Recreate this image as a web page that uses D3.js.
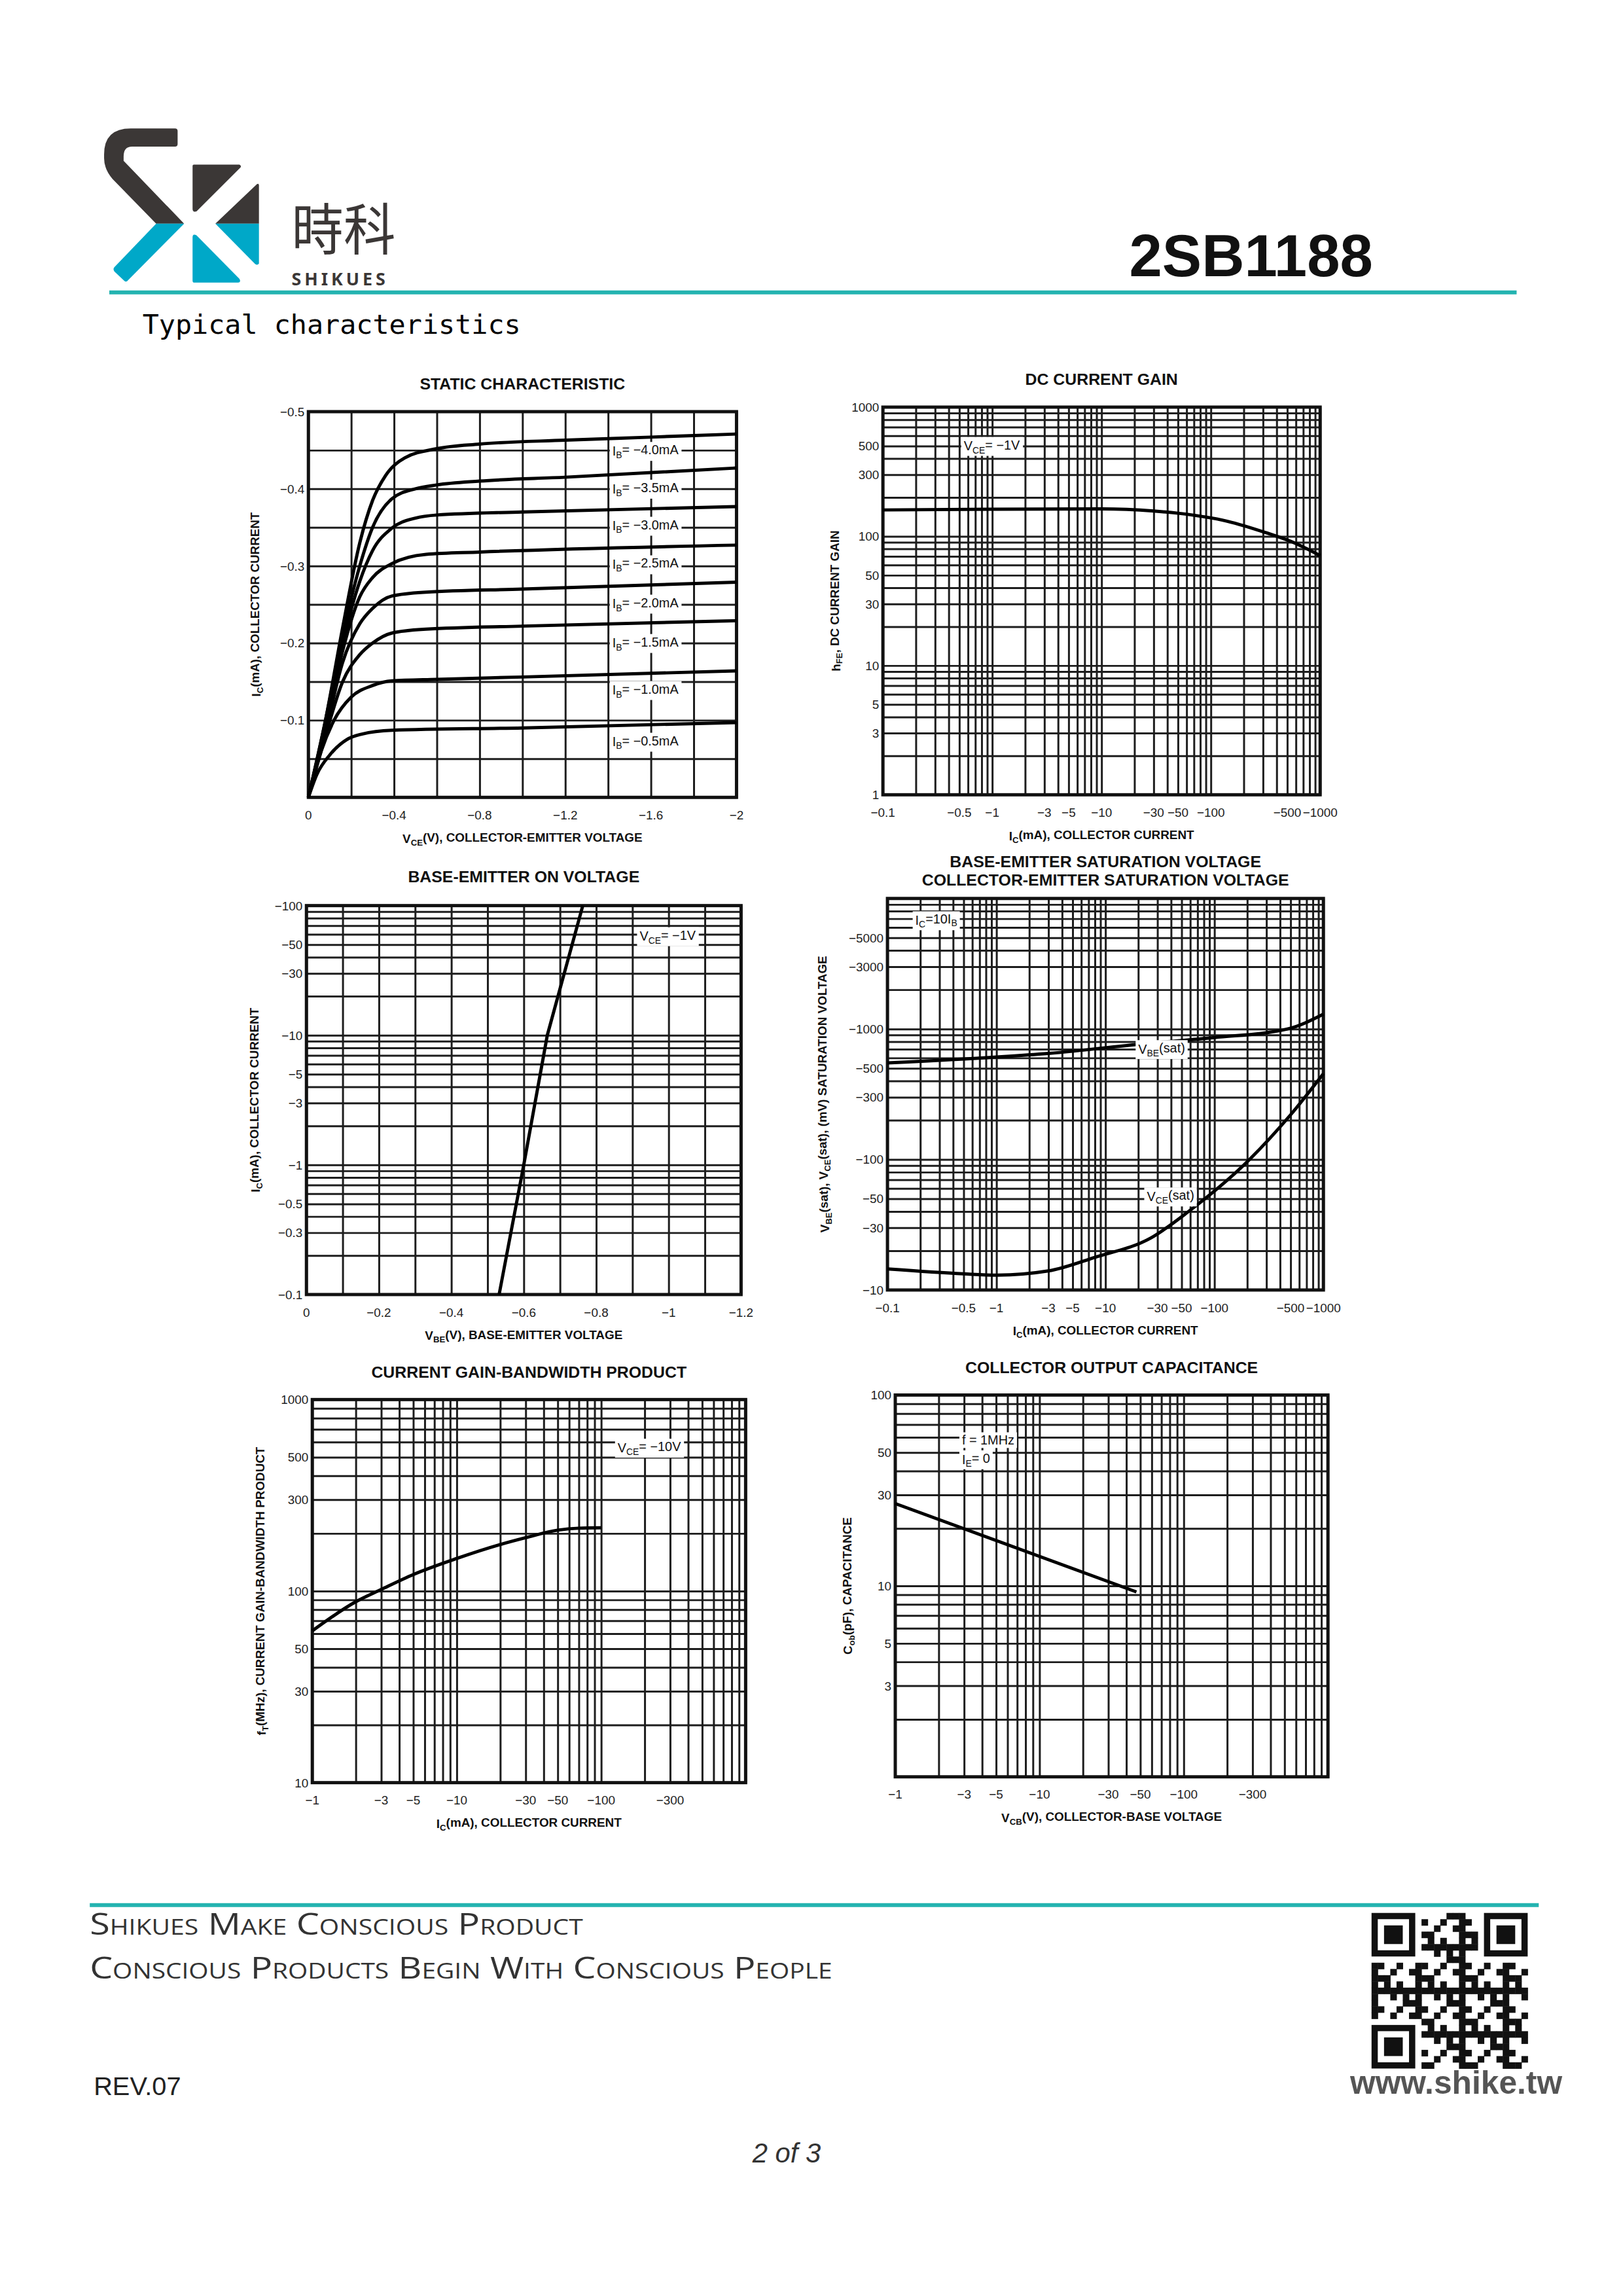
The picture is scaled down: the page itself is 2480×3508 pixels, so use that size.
<!DOCTYPE html>
<html>
<head>
<meta charset="utf-8">
<script src="https://cdn.jsdelivr.net/npm/d3@7"></script>
<style>
  html, body { margin: 0; padding: 0; background: #fff; }
  svg { display: block; }
  .tick-label { font-family: "Liberation Sans", Arial, sans-serif; font-size: 19px; fill: #222; }
  .ttl { font-family: "Liberation Sans", Arial, sans-serif; font-size: 25px; font-weight: bold; fill: #111; }
  .axt { font-family: "Liberation Sans", Arial, sans-serif; font-size: 19px; font-weight: bold; fill: #111; }
  .note { font-family: "Liberation Sans", Arial, sans-serif; font-size: 20px; fill: #111; }
</style>
</head>
<body>
<svg id="page" width="2480" height="3508"></svg>
<script>
// ---- data ----
// static characteristic: |VCE| (V), |IC|
const staticLabels = ["−4.0mA", "−3.5mA", "−3.0mA", "−2.5mA", "−2.0mA", "−1.5mA", "−1.0mA", "−0.5mA"];
const staticLabelY = [0.449, 0.400, 0.352, 0.302, 0.251, 0.200, 0.139, 0.072];
const ib40 = [[0,0],[0.08,0.1],[0.16,0.22],[0.24,0.33],[0.3,0.385],[0.36,0.417],[0.45,0.44],[0.6,0.452],[0.8,0.458],[1.2,0.463],[1.6,0.467],[2,0.471]];
const ib35 = [[0,0],[0.08,0.1],[0.16,0.21],[0.24,0.3],[0.3,0.35],[0.39,0.387],[0.5,0.4],[0.6,0.405],[0.8,0.41],[1.2,0.415],[2,0.427]];
const ib30 = [[0,0],[0.08,0.095],[0.16,0.2],[0.24,0.28],[0.3,0.32],[0.39,0.349],[0.5,0.362],[0.6,0.366],[1,0.37],[2,0.377]];
const ib25 = [[0,0],[0.08,0.09],[0.16,0.19],[0.24,0.26],[0.3,0.285],[0.39,0.303],[0.55,0.315],[0.8,0.318],[2,0.327]];
const ib20 = [[0,0],[0.08,0.085],[0.16,0.175],[0.24,0.225],[0.3,0.245],[0.39,0.261],[0.55,0.266],[1,0.27],[2,0.279]];
const ib15 = [[0,0],[0.08,0.08],[0.16,0.15],[0.24,0.185],[0.3,0.2],[0.39,0.213],[0.55,0.218],[1,0.222],[2,0.229]];
const ib10 = [[0,0],[0.06,0.06],[0.12,0.1],[0.2,0.13],[0.3,0.145],[0.39,0.151],[0.6,0.153],[1,0.156],[2,0.164]];
const ib05 = [[0,0],[0.04,0.03],[0.1,0.055],[0.18,0.075],[0.25,0.082],[0.39,0.087],[1,0.09],[2,0.097]];
const staticTicksX = [0, 0.4, 0.8, 1.2, 1.6, 2];
const staticTicksY = [0.1, 0.2, 0.3, 0.4, 0.5];

// DC current gain: |IC| mA, hFE
const hfe = [[0.1,160],[1,162],[10,163],[30,157],[50,151],[141,131],[316,107],[600,88],[1000,71]];
const icTicks = [0.1, 0.5, 1, 3, 5, 10, 30, 50, 100, 500, 1000];
const hfeTicks = [1000, 500, 300, 100, 50, 30, 10, 5, 3, 1];

// base-emitter on voltage: |VBE| V, |IC| mA
const vbeOn = [[0.532,0.1],[0.6,1],[0.665,10],[0.763,100]];
const vbeTicksX = [0, 0.2, 0.4, 0.6, 0.8, 1, 1.2];
const vbeTicksY = [100, 50, 30, 10, 5, 3, 1, 0.5, 0.3, 0.1];

// saturation voltages: |IC| mA, mV
const vbeSat = [[0.1,550],[1,610],[3,650],[26,780],[100,860],[468,1000],[1000,1300]];
const vceSat = [[0.1,14.5],[0.5,13.3],[1,13],[3,14],[8,17.8],[26,25],[58,40],[210,100],[500,220],[1000,455]];
const satTicksY = [5000, 3000, 1000, 500, 300, 100, 50, 30, 10];

// gain-bandwidth: |IC| mA, fT MHz
const ft = [[1,62],[2,88],[3,102],[5,122],[10,148],[20,175],[30,190],[50,208],[70,213],[100,214]];
const ftTicksX = [1, 3, 5, 10, 30, 50, 100, 300];
const ftTicksY = [1000, 500, 300, 100, 50, 30, 10];

// output capacitance: |VCB| V, Cob pF
const cob = [[1,27],[47,9.3]];
const cobTicksX = [1, 3, 5, 10, 30, 50, 100, 300];
const cobTicksY = [100, 50, 30, 10, 5, 3];

const root = d3.select("#page");
const svg = root.append("g").attr("transform", "translate(-2,6) scale(0.9942,0.9904)");
const teal = "#23b3b0";

function neg(v) { return v === 0 ? "0" : "−" + v; }

function linGrid(domain, step) {
  const out = [];
  for (let v = domain[0]; v <= domain[1] + 1e-9; v += step) out.push(+v.toFixed(6));
  return out;
}
function logGrid(domain) {
  const out = [];
  for (let p = Math.floor(Math.log10(domain[0])); p < Math.log10(domain[1]); p++) {
    for (let m = 1; m < 10; m++) {
      const v = m * Math.pow(10, p);
      if (v >= domain[0] - 1e-9 && v <= domain[1] + 1e-9) out.push(v);
    }
  }
  out.push(domain[1]);
  return out;
}

// subscripts are written as _{...}
function rich(sel, parts) {
  parts.forEach(p => {
    const t = sel.append("tspan").text(p[0]);
    if (p[1] === "sub") t.attr("font-size", "70%").attr("dy", "0.3em");
    else if (p[1] === "back") t.attr("dy", "-0.3em");
  });
}
function R(str) {
  const parts = [];
  const re = /_\{([^}]*)\}/g;
  let last = 0, m, sub = false;
  while ((m = re.exec(str)) !== null) {
    if (m.index > last) parts.push([str.slice(last, m.index), sub ? "back" : null]);
    parts.push([m[1], "sub"]);
    sub = true;
    last = re.lastIndex;
  }
  if (last < str.length) parts.push([str.slice(last), sub ? "back" : null]);
  return parts;
}

function chart(c) {
  const g = svg.append("g").attr("transform", `translate(${c.left},${c.top})`);
  const x = (c.xlog ? d3.scaleLog() : d3.scaleLinear()).domain(c.xdom).range([0, c.w]);
  const y = (c.ylog ? d3.scaleLog() : d3.scaleLinear()).domain(c.ydom).range([c.h, 0]);
  const gx = c.xlog ? logGrid(c.xdom) : linGrid(c.xdom, c.xstep);
  const gy = c.ylog ? logGrid(c.ydom) : linGrid(c.ydom, c.ystep);

  g.append("g").attr("class", "grid").call(
    d3.axisBottom(x).tickValues(gx).tickSize(-c.h).tickFormat(""))
    .attr("transform", `translate(0,${c.h})`);
  g.append("g").attr("class", "grid").call(
    d3.axisLeft(y).tickValues(gy).tickSize(-c.w).tickFormat(""));
  g.selectAll(".grid .domain").remove();
  g.selectAll(".grid line").attr("stroke", "#1d1d1d").attr("stroke-width", 3);
  g.append("rect").attr("width", c.w).attr("height", c.h)
    .attr("fill", "none").attr("stroke", "#111").attr("stroke-width", 5);

  g.selectAll(".xl").data(c.xticks).join("text").attr("class", "tick-label")
    .attr("x", d => x(d)).attr("y", c.h + 34).attr("text-anchor", "middle")
    .text(d => c.xfmt ? c.xfmt(d) : neg(d));
  g.selectAll(".yl").data(c.yticks).join("text").attr("class", "tick-label")
    .attr("x", -6).attr("y", d => y(d) + 7).attr("text-anchor", "end")
    .text(d => c.yfmt ? c.yfmt(d) : neg(d));

  const tl = g.append("text").attr("class", "ttl").attr("text-anchor", "middle")
    .attr("x", c.w / 2 + (c.tdx || 0)).attr("y", c.ty);
  (Array.isArray(c.title) ? c.title : [c.title]).forEach((s, i) =>
    tl.append("tspan").attr("x", c.w / 2 + (c.tdx || 0)).attr("dy", i ? 28 : 0).text(s));
  rich(g.append("text").attr("class", "axt").attr("text-anchor", "middle")
    .attr("x", c.w / 2 + (c.xtdx || 0)).attr("y", c.h + 70), R(c.xtitle));
  rich(g.append("text").attr("class", "axt").attr("text-anchor", "middle")
    .attr("transform", `translate(${c.ytx},${c.h / 2}) rotate(-90)`), R(c.ytitle));

  const line = d3.line().x(d => x(d[0])).y(d => y(d[1]))
    .curve(c.curve || d3.curveMonotoneX);
  c.series.forEach(s => g.append("path").attr("d", line(s)).attr("fill", "none")
    .attr("stroke", "#000").attr("stroke-width", 5).attr("stroke-linejoin", "round"));

  (c.notes || []).forEach(n => {
    const t = g.append("text").attr("class", "note").attr("x", x(n.x)).attr("y", y(n.y) + 7);
    rich(t, R(n.text));
    const b = t.node().getBBox();
    g.insert("rect", () => t.node()).attr("x", b.x - 4).attr("y", b.y - 1)
      .attr("width", b.width + 8).attr("height", b.height + 2).attr("fill", "#fff");
  });
  return { g, x, y };
}

// ---- header ----
const dark = "#3b3736", cyan = "#00a8c8";
const logo = svg.append("g");
logo.append("path").attr("d", "M275,196 Q275,192 271,192 L203,192 Q162,192 162,232 L162,238 Q162,255 175,270 L242,339 L285,339 L192,242 L192,235 Q192,220 205,220 L271,220 Q275,220 275,216 Z").attr("fill", dark);
logo.append("path").attr("d", "M242,339 L285,339 L199,426 Q196,430 193,427 L178,413 Q175,409 178,406 Z").attr("fill", cyan);
logo.append("path").attr("d", "M298,250 Q298,248 300,248 L370,248 Q374,250 371,253 L304,320 Q298,322 298,316 Z").attr("fill", dark);
logo.append("path").attr("d", "M397,278 Q400,276 400,280 L400,339 L333,339 Z").attr("fill", dark);
logo.append("path").attr("d", "M333,339 L400,339 L400,400 Q398,404 394,401 Z").attr("fill", cyan);
logo.append("path").attr("d", "M298,360 Q298,354 304,357 L370,424 Q373,429 368,430 L301,430 Q298,430 298,427 Z").attr("fill", cyan);
svg.append("text").attr("x", 450).attr("y", 380).attr("font-family", "Noto Sans CJK TC")
  .attr("font-size", 86).attr("textLength", 160).attr("lengthAdjust", "spacingAndGlyphs")
  .attr("fill", dark).text("時科");
svg.append("text").attr("x", 450).attr("y", 434).attr("font-family", "Noto Sans")
  .attr("font-weight", "bold").attr("font-size", 27).attr("letter-spacing", 5).attr("fill", dark).text("SHIKUES");
svg.append("text").attr("x", 2112).attr("y", 420).attr("text-anchor", "end")
  .attr("font-family", "Liberation Sans").attr("font-weight", "bold").attr("font-size", 91)
  .attr("fill", "#111").text("2SB1188");
svg.append("line").attr("x1", 170).attr("x2", 2333).attr("y1", 445).attr("y2", 445)
  .attr("stroke", teal).attr("stroke-width", 6);
svg.append("text").attr("x", 221).attr("y", 509).attr("font-family", "DejaVu Sans Mono")
  .attr("font-size", 42).attr("fill", "#000").text("Typical characteristics");

// ---- charts ----
chart({ left: 476, top: 629, w: 658, h: 595, xdom: [0, 2], xstep: 0.2, ydom: [0, 0.5], ystep: 0.05,
  xticks: staticTicksX, yticks: staticTicksY, ty: -34, title: "STATIC CHARACTERISTIC",
  xtitle: "V_{CE}(V), COLLECTOR-EMITTER VOLTAGE", ytitle: "I_{C}(mA), COLLECTOR CURRENT", ytx: -74,
  series: [ib40, ib35, ib30, ib25, ib20, ib15, ib10, ib05],
  notes: staticLabels.map((s, i) => ({ x: 1.42, y: staticLabelY[i], text: "I_{B}= " + s })) });

chart({ left: 1359, top: 622, w: 672, h: 598, xlog: true, ylog: true, xdom: [0.1, 1000], ydom: [1, 1000],
  xticks: icTicks, yticks: hfeTicks, yfmt: d => String(d), ty: -34, title: "DC CURRENT GAIN",
  xtitle: "I_{C}(mA), COLLECTOR CURRENT", ytitle: "h_{FE}, DC CURRENT GAIN", ytx: -66,
  series: [hfe], notes: [{ x: 0.55, y: 500, text: "V_{CE}= −1V" }] });

chart({ left: 473, top: 1391, w: 668, h: 600, ylog: true, xdom: [0, 1.2], xstep: 0.1, ydom: [0.1, 100],
  xticks: vbeTicksX, yticks: vbeTicksY, ty: -36, title: "BASE-EMITTER ON VOLTAGE",
  xtitle: "V_{BE}(V), BASE-EMITTER VOLTAGE", ytitle: "I_{C}(mA), COLLECTOR CURRENT", ytx: -72,
  series: [vbeOn], curve: d3.curveLinear, notes: [{ x: 0.92, y: 58, text: "V_{CE}= −1V" }] });

chart({ left: 1366, top: 1380, w: 670, h: 604, xlog: true, ylog: true, xdom: [0.1, 1000], ydom: [10, 10000],
  xticks: icTicks, yticks: satTicksY, ty: -48,
  title: ["BASE-EMITTER SATURATION VOLTAGE", "COLLECTOR-EMITTER SATURATION VOLTAGE"],
  xtitle: "I_{C}(mA), COLLECTOR CURRENT", ytitle: "V_{BE}(sat), V_{CE}(sat), (mV) SATURATION VOLTAGE", ytx: -90,
  series: [vbeSat, vceSat],
  notes: [{ x: 0.18, y: 6800, text: "I_{C}=10I_{B}" }, { x: 20, y: 700, text: "V_{BE}(sat)" },
          { x: 24, y: 52, text: "V_{CE}(sat)" }] });

chart({ left: 482, top: 2153, w: 666, h: 591, xlog: true, ylog: true, xdom: [1, 1000], ydom: [10, 1000],
  xticks: ftTicksX, yticks: ftTicksY, yfmt: d => String(d), ty: -34, title: "CURRENT GAIN-BANDWIDTH PRODUCT",
  xtitle: "I_{C}(mA), COLLECTOR CURRENT", ytitle: "f_{T}(MHz), CURRENT GAIN-BANDWIDTH PRODUCT", ytx: -72,
  series: [ft], notes: [{ x: 130, y: 560, text: "V_{CE}= −10V" }] });

chart({ left: 1378, top: 2146, w: 665, h: 589, xlog: true, ylog: true, xdom: [1, 1000], ydom: [1, 100],
  xticks: cobTicksX, yticks: cobTicksY, yfmt: d => String(d), ty: -34, title: "COLLECTOR OUTPUT CAPACITANCE",
  xtitle: "V_{CB}(V), COLLECTOR-BASE VOLTAGE", ytitle: "C_{ob}(pF), CAPACITANCE", ytx: -66,
  series: [cob], curve: d3.curveLinear,
  notes: [{ x: 2.9, y: 58, text: "f = 1MHz" }, { x: 2.9, y: 46, text: "I_{E}= 0" }] });

// ---- footer ----
svg.append("line").attr("x1", 140).attr("x2", 2367).attr("y1", 2933).attr("y2", 2933)
  .attr("stroke", teal).attr("stroke-width", 6);
[["Shikues Make Conscious Product", 2979, 758], ["Conscious Products Begin With Conscious People", 3046, 1141]]
  .forEach(([s, yy, len]) => svg.append("text").attr("x", 140).attr("y", yy)
    .attr("font-family", "Open Sans").attr("font-size", 46).attr("font-variant", "small-caps")
    .attr("textLength", len).attr("lengthAdjust", "spacingAndGlyphs").attr("fill", "#333").text(s));
svg.append("text").attr("x", 146).attr("y", 3226).attr("font-family", "Liberation Sans")
  .attr("font-size", 40).attr("fill", "#222").text("REV.07");
svg.append("text").attr("x", 2403).attr("y", 3224).attr("text-anchor", "end").attr("font-family", "Liberation Sans")
  .attr("font-weight", "bold").attr("font-size", 50).attr("fill", "#555").text("www.shike.tw");
svg.append("text").attr("x", 1211).attr("y", 3330).attr("text-anchor", "middle").attr("font-family", "Liberation Sans")
  .attr("font-style", "italic").attr("font-size", 42).attr("fill", "#333").text("2 of 3");

// QR-like block (decorative)
const qr = svg.append("g").attr("transform", "translate(2110,2945)");
const n = 25, cs = 240 / n;
const bits = [];
for (let r = 0; r < n; r++) for (let c = 0; c < n; c++) {
  const finder = (r < 8 && c < 8) || (r < 8 && c >= n - 8) || (r >= n - 8 && c < 8);
  if (finder) continue;
  if (((r * 7 + c * 13 + r * c * 3) % 7) < 3) bits.push([r, c]);
}
qr.selectAll("rect.b").data(bits).join("rect").attr("x", d => d[1] * cs).attr("y", d => d[0] * cs)
  .attr("width", cs + 0.5).attr("height", cs + 0.5).attr("fill", "#111");
[[0, 0], [0, n - 7], [n - 7, 0]].forEach(([r, c]) => {
  qr.append("rect").attr("x", c * cs + cs / 2).attr("y", r * cs + cs / 2).attr("width", 6 * cs).attr("height", 6 * cs)
    .attr("fill", "none").attr("stroke", "#111").attr("stroke-width", cs);
  qr.append("rect").attr("x", (c + 2) * cs).attr("y", (r + 2) * cs).attr("width", 3 * cs).attr("height", 3 * cs).attr("fill", "#111");
});
</script>
</body>
</html>
